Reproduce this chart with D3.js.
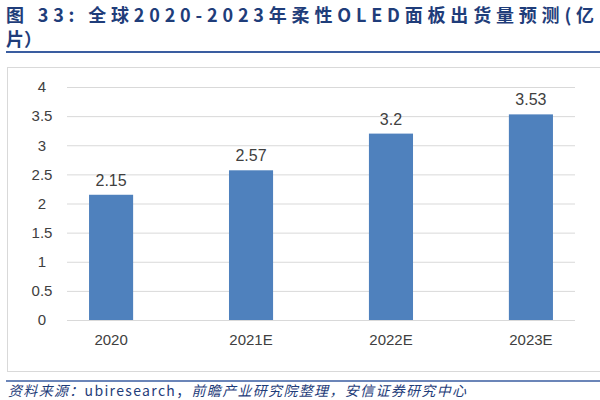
<!DOCTYPE html>
<html><head><meta charset="utf-8">
<script src="https://cdn.jsdelivr.net/npm/d3@7"></script>
<style>body{margin:0;background:#fff}</style>
</head><body><svg id="c"></svg>
<script>
const categories = ['2020', '2021E', '2022E', '2023E'];
const values = [2.15, 2.57, 3.2, 3.53];
const yTicks = [0, 0.5, 1, 1.5, 2, 2.5, 3, 3.5, 4];

const svg = d3.select('#c').attr('width', 600).attr('height', 400);
const cjk = '"Noto Sans CJK SC", sans-serif';
const navy = '#1f3d7a';

// Title
svg.append('text').attr('x', 6).attr('y', 22)
  .attr('textLength', 588).attr('lengthAdjust', 'spacing')
  .style('font-family', cjk).style('font-size', '18px').style('font-weight', 'bold')
  .attr('fill', navy).text('图 33: 全球2020-2023年柔性OLED面板出货量预测(亿');
svg.append('text').attr('x', 6).attr('y', 46)
  .style('font-family', cjk).style('font-size', '18px').style('font-weight', 'bold')
  .attr('fill', navy).text('片）');
svg.append('line').attr('x1', 6).attr('x2', 600).attr('y1', 52).attr('y2', 52)
  .attr('stroke', '#3a5da0').attr('stroke-width', 2);

// Chart frame
svg.append('rect').attr('x', 7.5).attr('y', 67.5).attr('width', 600).attr('height', 304)
  .attr('fill', '#fff').attr('stroke', '#d9d9d9');

const margin = { left: 67, right: 25, top: 87, bottom: 320 };
const x = d3.scaleBand().domain(categories).range([margin.left, 600 - margin.right])
  .paddingInner(0.685).paddingOuter(0.1575);
const y = d3.scaleLinear().domain([0, 4]).range([margin.bottom, margin.top]);

// Gridlines
svg.append('g').attr('transform', `translate(${margin.left},0)`)
  .call(d3.axisLeft(y).tickValues(yTicks).tickSize(-(600 - margin.right - margin.left)).tickFormat(''))
  .call(g => g.select('.domain').remove())
  .selectAll('line').attr('stroke', '#d9d9d9');

// Y axis labels
svg.append('g').attr('transform', `translate(${margin.left - 22},0)`)
  .call(d3.axisLeft(y).tickValues(yTicks).tickSize(0).tickFormat(d3.format('')))
  .call(g => g.select('.domain').remove())
  .selectAll('text').style('font-family', 'Liberation Sans, sans-serif').style('font-size', '15px')
  .attr('fill', '#404040').attr('text-anchor', 'middle');

// X axis labels
svg.append('g').attr('transform', `translate(0,${margin.bottom})`)
  .call(d3.axisBottom(x).tickSize(0).tickPadding(14))
  .call(g => g.select('.domain').remove())
  .selectAll('text').style('font-family', 'Liberation Sans, sans-serif').style('font-size', '15px')
  .attr('fill', '#404040');

// Bars
svg.append('g').selectAll('rect').data(values).join('rect')
  .attr('x', (d, i) => x(categories[i]))
  .attr('y', d => y(d))
  .attr('width', x.bandwidth())
  .attr('height', d => y(0) - y(d))
  .attr('fill', '#4f81bd');

// Value labels
svg.append('g').selectAll('text').data(values).join('text')
  .attr('x', (d, i) => x(categories[i]) + x.bandwidth() / 2)
  .attr('y', d => y(d) - 9)
  .attr('text-anchor', 'middle')
  .style('font-family', 'Liberation Sans, sans-serif').style('font-size', '16px')
  .attr('fill', '#404040').text(d => d);

// Source
svg.append('line').attr('x1', 6).attr('x2', 600).attr('y1', 381).attr('y2', 381)
  .attr('stroke', '#3a5da0').attr('stroke-width', 1.5);
const src = svg.append('text').attr('x', 8).attr('y', 396)
  .attr('textLength', 458).attr('lengthAdjust', 'spacing')
  .style('font-family', cjk).style('font-size', '14px').attr('fill', navy);
src.append('tspan').style('font-style', 'italic').text('资料来源：');
src.append('tspan').text('ubiresearch，');
src.append('tspan').style('font-style', 'italic').text('前瞻产业研究院整理，安信证券研究中心');
</script></body></html>
